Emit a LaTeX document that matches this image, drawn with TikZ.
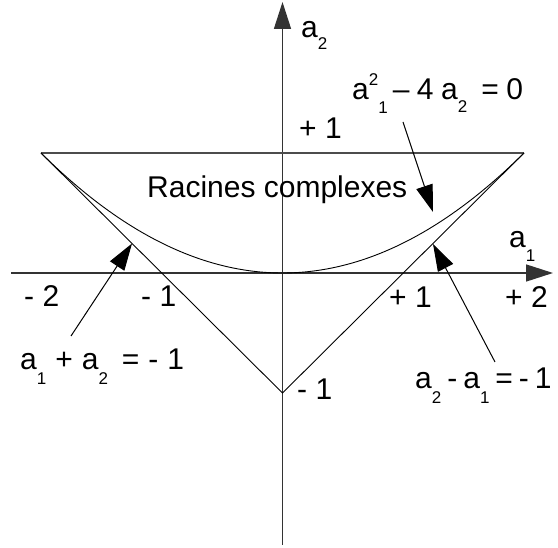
\documentclass[tikz,border=0pt]{standalone}
\usepackage{fontspec}
\setmainfont{Liberation Sans}
\usetikzlibrary{arrows.meta,calc}
\newcommand\lo[2]{\raisebox{-#1pt}{\fontsize{17}{17}\selectfont #2}}
\newcommand\hi[2]{\raisebox{#1pt}{\fontsize{17}{17}\selectfont #2}}
\newcommand\gp{\hspace{7.5pt}}
\begin{document}
\begin{tikzpicture}[x=1pt,y=-1pt,
  lbl/.style={inner sep=0pt, anchor=base west, font=\fontsize{30}{30}\selectfont},
  axisline/.style={line width=1.5pt, black!80, -{Triangle[length=27pt,width=17pt]}},
  edge/.style={line width=0.9pt},
  topedge/.style={line width=1.3pt, black!70},
  pointer/.style={line width=1pt, -{Triangle[length=27pt,width=17pt]}}]
\useasboundingbox (0,0) rectangle (558,548);
% axes
\coordinate (ybot) at (282.5,545);
\coordinate (ytop) at (282.5,2);
\coordinate (xl) at (11,273);
\coordinate (xr) at (553,273);
\draw[axisline] (ybot) -- (ytop);
\draw[axisline] (xl) -- (xr);
% triangle
\coordinate (L) at (41,153);
\coordinate (R) at (524,153);
\coordinate (B) at (282.5,393);
\draw[topedge] (L) -- (R);
\draw[edge] (R) -- (B) -- (L);
% parabola a2 = a1^2/4
\draw[edge] (L) .. controls ($(L)!2/3!(B)$) and ($(R)!2/3!(B)$) .. (R);
% labels
\node[lbl] (la2) at (301,38) {a\lo{12}{2}};
\node[lbl] (ptop) at (299,139) {+ 1};
\node[lbl] (rac) at (147,198) {Racines complexes};
\node[lbl] (lpar) at (352,100) {a\hi{14}{2}\lo{14}{1}\hspace{5pt}–\gp{}4\gp{}a\lo{13}{2}\hspace{14pt}=\gp{}0};
\node[lbl] (la1) at (509,248) {a\lo{14}{1}};
\node[lbl] (mtwo) at (24,307) {- 2};
\node[lbl] (mone) at (141,307) {- 1};
\node[lbl] (pone) at (389,308) {+ 1};
\node[lbl] (ptwo) at (505,308) {+ 2};
\node[lbl] (mbot) at (297,400) {- 1};
\node[lbl] (lleft) at (20,370) {a\lo{15}{1}\hspace{9pt}+\hspace{9pt}a\lo{15}{2}\hspace{14pt}=\hspace{9pt}-\hspace{9pt}1};
\node[lbl] (lright) at (415,389) {a\lo{15}{2}\hspace{6pt}-\hspace{6pt}a\lo{15}{1}\hspace{6pt}=\hspace{6pt}-\hspace{6pt}1};
% pointers
\coordinate (p1s) at (71,336);
\coordinate (p1e) at (132,243.5);
\coordinate (p2s) at (403,122);
\coordinate (p2e) at (433,212);
\coordinate (p3s) at (495,362);
\coordinate (p3e) at (433,244);
\draw[pointer] (p1s) -- (p1e);
\draw[pointer] (p2s) -- (p2e);
\draw[pointer] (p3s) -- (p3e);
\end{tikzpicture}
\end{document}
